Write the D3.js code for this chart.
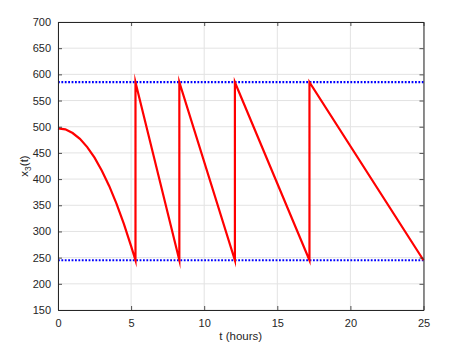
<!DOCTYPE html>
<html><head><meta charset="utf-8">
<script src="https://cdn.jsdelivr.net/npm/d3@7"></script>
<style>
html,body{margin:0;padding:0;background:#fff;}
svg{display:block;font-family:"Liberation Sans",Arial,Helvetica,sans-serif;}
</style></head>
<body><svg id="chart" width="457" height="349"></svg>
<script>
// Data
const tValues = [0, 0.5, 1, 1.5, 2, 2.5, 3, 3.5, 4, 4.5, 5, 5.3, 5.3, 8.3, 8.3, 12.1, 12.1, 17.2, 17.2, 25];
const x3Values = [497, 495, 488, 477, 461, 441, 416, 387, 353, 315, 272, 245, 585, 245, 585, 245, 585, 245, 585, 245];
const upperBound = [585, 585];
const lowerBound = [245, 245];
const boundT = [0, 25];
const xTicks = [0, 5, 10, 15, 20, 25];
const yTicks = [150, 200, 250, 300, 350, 400, 450, 500, 550, 600, 650, 700];

const L = 58, R = 423.5, T = 22, B = 310;
const svg = d3.select("#chart");
const x = d3.scaleLinear().domain([0, 25]).range([L, R]);
const y = d3.scaleLinear().domain([150, 700]).range([B, T]);

// grid
const g = svg.append("g");
g.selectAll(".vg").data(xTicks).join("line")
  .attr("x1", d => x(d)).attr("x2", d => x(d)).attr("y1", T).attr("y2", B)
  .attr("stroke", "#e3e3e3").attr("stroke-width", 1);
g.selectAll(".hg").data(yTicks).join("line")
  .attr("x1", L).attr("x2", R).attr("y1", d => y(d)).attr("y2", d => y(d))
  .attr("stroke", "#e3e3e3").attr("stroke-width", 1);

// bounds (dotted blue)
const line = d3.line().x(d => x(d[0])).y(d => y(d[1]));
[upperBound, lowerBound].forEach(b => {
  svg.append("path").datum(boundT.map((t, i) => [t, b[i]]))
    .attr("d", line).attr("fill", "none").attr("stroke", "#0000ff")
    .attr("stroke-width", 2.2).attr("stroke-dasharray", "1.8,1.6");
});

// red trajectory
svg.append("path").datum(tValues.map((t, i) => [t, x3Values[i]]))
  .attr("d", line).attr("fill", "none").attr("stroke", "#ff0000")
  .attr("stroke-width", 2.2).attr("stroke-linejoin", "miter").attr("stroke-miterlimit", 12);

// axes
const ac = "#262626";
const xAxis = d3.axisBottom(x).tickValues(xTicks).tickSizeInner(-4).tickSizeOuter(0).tickPadding(9);
const yAxis = d3.axisLeft(y).tickValues(yTicks).tickSizeInner(-4).tickSizeOuter(0).tickPadding(7);
const gx = svg.append("g").attr("transform", `translate(0,${B})`).call(xAxis);
const gy = svg.append("g").attr("transform", `translate(${L},0)`).call(yAxis);
const gxT = svg.append("g").attr("transform", `translate(0,${T})`).call(d3.axisTop(x).tickValues(xTicks).tickSizeInner(-4).tickSizeOuter(0).tickFormat(""));
const gyR = svg.append("g").attr("transform", `translate(${R},0)`).call(d3.axisRight(y).tickValues(yTicks).tickSizeInner(-4).tickSizeOuter(0).tickFormat(""));
[gx, gy, gxT, gyR].forEach(a => {
  a.select(".domain").attr("stroke", ac).attr("stroke-width", 1);
  a.selectAll(".tick line").attr("stroke", ac).attr("stroke-width", 0.8);
  a.selectAll("text").attr("fill", ac).attr("font-size", 11)
    .attr("font-family", "'Liberation Sans',Arial,Helvetica,sans-serif");
});

// labels
svg.append("text").attr("x", (L + R) / 2).attr("y", 340).attr("text-anchor", "middle")
  .attr("font-size", 11.5).attr("fill", ac).text("t (hours)");
const yl = svg.append("text").attr("transform", `translate(28,${(T + B) / 2}) rotate(-90)`)
  .attr("text-anchor", "middle").attr("font-size", 11.5).attr("fill", ac);
yl.append("tspan").text("x");
yl.append("tspan").attr("font-size", 8.5).attr("dy", 3).text("3");
yl.append("tspan").attr("dy", -3).text("(t)");
</script></body></html>
